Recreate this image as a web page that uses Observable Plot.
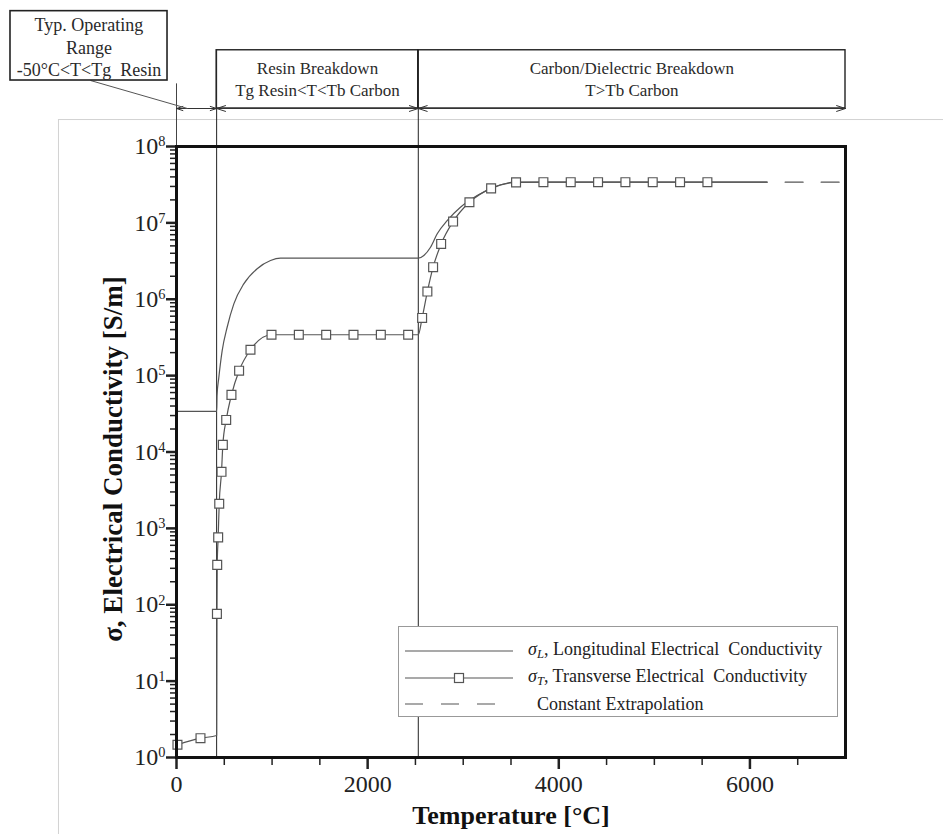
<!DOCTYPE html>
<html><head><meta charset="utf-8">
<script src="https://cdn.jsdelivr.net/npm/d3@7"></script>
<script src="https://cdn.jsdelivr.net/npm/@observablehq/plot@0.6"></script>
<style>
body{margin:0;background:#fff;}
#wrap{position:relative;width:943px;height:834px;}
#legend{position:absolute;left:398px;top:626px;width:438px;height:89px;border:1px solid #999;background:#fff;font-family:"Liberation Serif","Times New Roman",serif;font-size:18px;color:#222;}
#legend .row{position:absolute;left:0;height:20px;display:flex;align-items:center;white-space:pre;}
#legend svg{display:block;}
#legend sub{font-size:0.7em;vertical-align:-0.25em;}
</style></head><body><div id="wrap"></div>
<script>
// ---- Data ----
// Longitudinal conductivity sigma_L [S/m] vs temperature [°C]
const tempL  = [0, 420, 424, 443, 478, 530, 600, 704, 844, 984, 1088, 2530, 2588, 2658, 2728, 2832, 2971, 3146, 3320, 3529, 6180];
const sigmaL = [3.4e4, 3.4e4, 5.5e4, 9.5e4, 2.13e5, 4.3e5, 8.7e5, 1.59e6, 2.51e6, 3.21e6, 3.45e6, 3.45e6, 3.74e6, 4.8e6, 7.2e6, 1.07e7, 1.6e7, 2.28e7, 2.93e7, 3.41e7, 3.41e7];
// Transverse conductivity sigma_T: marker points
const tempTm  = [10, 251, 423, 426, 436, 447, 471, 485, 520, 575, 655, 774, 994, 1280, 1566, 1852, 2138, 2424,
                 2570, 2625, 2685, 2769, 2894, 3065, 3292, 3553, 3839, 4125, 4411, 4697, 4983, 5269, 5555];
const sigmaTm = [1.47, 1.79, 76, 333, 763, 2100, 5500, 12400, 26300, 56000, 116000, 218000, 3.43e5, 3.43e5, 3.43e5, 3.43e5, 3.43e5, 3.43e5,
                 5.69e5, 1.26e6, 2.63e6, 5.3e6, 1.04e7, 1.86e7, 2.83e7, 3.39e7, 3.41e7, 3.41e7, 3.41e7, 3.41e7, 3.41e7, 3.41e7, 3.41e7];
// Transverse conductivity sigma_T: extra line bend points (no marker)
const tempTk  = [420, 2530, 6180];
const sigmaTk = [1.94, 3.43e5, 3.41e7];
// Constant extrapolation
const tempExt  = [6180, 7000];
const sigmaExt = [3.41e7, 3.41e7];

// Region boundaries [°C] and annotation texts
const regionBounds = [0, 420, 2530, 7000];
const regionText = [["Resin Breakdown", "Tg Resin<T<Tb Carbon"], ["Carbon/Dielectric Breakdown", "T>Tb Carbon"]];
const opRangeText = ["Typ. Operating", "Range", "-50°C<T<Tg  Resin"];

// Ticks
const xMajor = [0, 2000, 4000, 6000];
const xMinor = d3.range(500, 7000, 500).filter(d => d % 2000 !== 0);
const yMajor = d3.range(0, 9).map(k => 10 ** k);
const yMinor = d3.range(0, 8).flatMap(k => d3.range(2, 10).map(m => m * 10 ** k));

// Legend
const legendItems = [
  {kind: "L", html: '<i>σ</i><sub><i>L</i></sub>, Longitudinal Electrical  Conductivity'},
  {kind: "T", html: '<i>σ</i><sub><i>T</i></sub>, Transverse Electrical  Conductivity'},
  {kind: "E", html: '  Constant Extrapolation'}
];

// ---- Build tables ----
const dataL = tempL.map((t, i) => ({t, s: sigmaL[i]}));
const markersT = tempTm.map((t, i) => ({t, s: sigmaTm[i]}));
const lineT = markersT.concat(tempTk.map((t, i) => ({t, s: sigmaTk[i]}))).sort((a, b) => a.t - b.t);
const dataExt = tempExt.map((t, i) => ({t, s: sigmaExt[i]}));

// annotation levels (log10 units above the frame)
const lv = e => 10 ** e;
const arrowY = lv(8.4975), boxTop = lv(9.26);
const regions = [0, 1, 2].map(i => ({a: regionBounds[i], b: regionBounds[i + 1]}));
const arrowSegs = regions.flatMap(r => {
  const m = (r.a + r.b) / 2;
  return [{x1: m, x2: r.a}, {x1: m, x2: r.b}];
});
const regionRows = regionText.flatMap((lines, i) => lines.map((txt, j) => ({
  x: (regionBounds[i + 1] + regionBounds[i + 2]) / 2,
  y: j === 0 ? lv(9.02) : lv(8.73), txt
})));
const opRows = opRangeText.map((txt, j) => ({x: -916, y: lv([9.584, 9.283, 8.995][j]), txt}));

const ink = "#222", curve = "#555";
const chart = Plot.plot({
  width: 943, height: 834,
  marginLeft: 176, marginRight: 98, marginTop: 146, marginBottom: 77,
  style: {fontFamily: '"Liberation Serif","Times New Roman",serif', color: ink, background: "#fff", overflow: "visible"},
  x: {domain: [0, 7000]},
  y: {type: "log", domain: [1, 1e8]},
  marks: [
    // faint page edge
    Plot.ruleY([lv(8.353)], {x1: -1235, x2: 8040, stroke: "#d2d2d2", strokeWidth: 1}),
    Plot.ruleX([-1235], {y1: lv(8.353), y2: lv(-1.1), stroke: "#d2d2d2", strokeWidth: 1}),
    // region boundaries
    Plot.ruleX([regionBounds[1], regionBounds[2]], {y1: 1, y2: boxTop, stroke: ink, strokeWidth: 1}),
    Plot.ruleX([regionBounds[0]], {y1: lv(8), y2: lv(8.82), stroke: "#444", strokeWidth: 1}),
    Plot.rect([1, 2], {x1: i => regionBounds[i], x2: i => regionBounds[i + 1], y1: arrowY, y2: boxTop, fill: "none", stroke: ink, strokeWidth: 1.4}),
    Plot.arrow(arrowSegs, {x1: "x1", x2: "x2", y1: arrowY, y2: arrowY, headLength: 14, headAngle: 36, stroke: "#333", strokeWidth: 1}),
    Plot.text(regionRows, {x: "x", y: "y", text: "txt", fontSize: 17, fill: "#2a2a2a"}),
    // operating range callout
    Plot.link([0], {x1: -900, y1: lv(8.864), x2: 115, y2: arrowY, stroke: "#555", strokeWidth: 1}),
    Plot.rect([0], {x1: -1737, x2: -94, y1: lv(8.864), y2: lv(9.772), fill: "white", stroke: ink, strokeWidth: 1.6}),
    Plot.text(opRows, {x: "x", y: "y", text: "txt", fontSize: 18, fill: "#2a2a2a"}),
    // axes
    Plot.axisX({ticks: xMinor, tickSize: 8, strokeWidth: 1.5, tickFormat: () => "", label: null}),
    Plot.axisX({ticks: xMajor, tickSize: 12, tickPadding: 5, strokeWidth: 2.5, fontSize: 24, tickFormat: d => String(d), label: null}),
    Plot.axisY({ticks: yMinor, tickSize: 6, strokeWidth: 1.5, tickFormat: () => "", label: null}),
    Plot.axisY({ticks: yMajor, tickSize: 10, tickPadding: 1, strokeWidth: 2.5, fontSize: 24, tickFormat: d => String(Math.round(Math.log10(d))), label: null}),
    Plot.text(["Temperature [°C]"], {frameAnchor: "bottom", lineAnchor: "middle", textAnchor: "middle", dy: 58, fontSize: 26, fontWeight: "bold", fill: "#111"}),
    Plot.text(["σ, Electrical Conductivity [S/m]"], {frameAnchor: "left", textAnchor: "middle", lineAnchor: "middle", rotate: -90, dx: -63, dy: 7, fontSize: 27, fontWeight: "bold", fill: "#111"}),
    // curves
    Plot.line(dataExt, {x: "t", y: "s", stroke: curve, strokeWidth: 1.2, strokeDasharray: "18 18", strokeDashoffset: 18}),
    Plot.line(dataL, {x: "t", y: "s", stroke: curve, strokeWidth: 1.2, curve: "monotone-x"}),
    Plot.line(lineT, {x: "t", y: "s", stroke: curve, strokeWidth: 1.2, curve: "monotone-x"}),
    Plot.dot(markersT, {x: "t", y: "s", symbol: "square", r: 5, stroke: curve, strokeWidth: 1.2, fill: "white"}),
    Plot.frame({stroke: "#111", strokeWidth: 3})
  ]
});
document.getElementById("wrap").appendChild(chart);

// superscript exponents on y tick labels
chart.querySelectorAll('g[aria-label="y-axis tick label"] text').forEach(t => {
  const k = t.textContent;
  if (!k) return;
  t.textContent = "10";
  const ts = document.createElementNS("http://www.w3.org/2000/svg", "tspan");
  ts.setAttribute("dy", "-0.55em");
  ts.setAttribute("font-size", "0.6em");
  ts.textContent = k;
  t.appendChild(ts);
});

// legend
const leg = document.createElement("div");
leg.id = "legend";
const rowTops = [14, 41, 67];
legendItems.forEach((it, i) => {
  const row = document.createElement("div");
  row.className = "row";
  row.style.top = rowTops[i] + "px";
  let sw = '<svg width="125" height="20">';
  if (it.kind === "E") sw += '<line x1="6" x2="114" y1="10" y2="10" stroke="#555" stroke-width="1.2" stroke-dasharray="18 18"/>';
  else sw += '<line x1="6" x2="114" y1="10" y2="10" stroke="#555" stroke-width="1.2"/>';
  if (it.kind === "T") sw += '<rect x="55.5" y="5.5" width="9" height="9" fill="white" stroke="#555" stroke-width="1.2"/>';
  sw += '</svg>';
  row.innerHTML = sw + '<span style="margin-left:4px">' + it.html + '</span>';
  leg.appendChild(row);
});
document.getElementById("wrap").appendChild(leg);
</script>
</body></html>
